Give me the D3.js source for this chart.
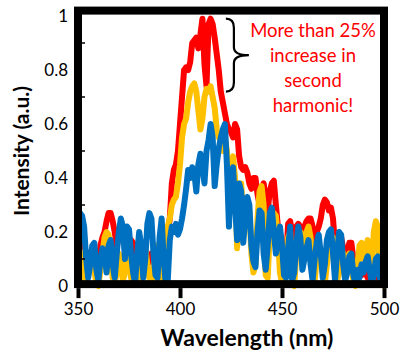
<!DOCTYPE html>
<html>
<head>
<meta charset="utf-8">
<script src="https://cdn.jsdelivr.net/npm/d3@7"></script>
<style>
  body { margin: 0; background: #fff; }
  text { font-family: Lato, "Noto Sans", sans-serif; }
</style>
</head>
<body>
<svg id="chart" width="403" height="356"></svg>
<script>
// wavelength samples, 1 nm apart
const wavelength = d3.range(350, 501);

const red = [
  0.15,0.18,0.16,0.10,0.05,0.08,0.12,0.14,0.10,0.05,
  0.08,0.15,0.18,0.20,0.24,0.27,0.27,0.24,0.20,0.15,
  0.18,0.22,0.20,0.15,0.17,0.16,0.17,0.16,0.10,0.08,
  0.15,0.16,0.10,0.07,0.10,0.09,0.12,0.08,0.06,0.04,
  0.05,0.03,0.05,0.12,0.20,0.25,0.38,0.43,0.45,0.50,
  0.60,0.70,0.80,0.81,0.80,0.83,0.90,0.91,0.92,0.88,
  0.93,0.99,0.82,0.74,0.97,0.99,0.97,0.92,0.86,0.80,
  0.72,0.68,0.64,0.60,0.58,0.57,0.55,0.60,0.58,0.48,
  0.44,0.43,0.44,0.42,0.38,0.36,0.40,0.40,0.34,0.30,
  0.36,0.38,0.33,0.28,0.35,0.38,0.39,0.30,0.22,0.14,
  0.05,0.02,0.10,0.23,0.24,0.20,0.18,0.22,0.23,0.22,
  0.20,0.22,0.24,0.25,0.25,0.22,0.17,0.20,0.22,0.25,
  0.30,0.32,0.31,0.28,0.29,0.25,0.15,0.12,0.14,0.18,
  0.14,0.09,0.12,0.16,0.16,0.10,0.05,0.08,0.06,0.04,
  0.07,0.05,0.03,0.06,0.04,0.08,0.06,0.03,0.05,0.04,0.02
];

const yellow = [
  0.14,0.13,0.10,0.02,0.01,0.04,0.10,0.13,0.06,0.01,
  0.00,0.06,0.12,0.18,0.20,0.19,0.10,0.03,0.01,0.05,
  0.12,0.08,0.02,0.05,0.13,0.10,0.03,0.01,0.04,0.10,
  0.07,0.02,0.13,0.14,0.08,0.03,0.01,0.05,0.15,0.10,
  0.03,0.01,0.06,0.15,0.22,0.25,0.30,0.32,0.33,0.38,
  0.45,0.55,0.60,0.62,0.68,0.72,0.74,0.75,0.72,0.65,
  0.58,0.62,0.70,0.73,0.72,0.74,0.70,0.66,0.58,0.55,
  0.56,0.50,0.55,0.50,0.35,0.45,0.48,0.40,0.14,0.38,
  0.38,0.25,0.22,0.30,0.28,0.12,0.05,0.08,0.25,0.35,
  0.37,0.30,0.04,0.03,0.20,0.25,0.27,0.26,0.18,0.05,
  0.01,0.02,0.12,0.18,0.20,0.01,0.00,0.12,0.20,0.20,
  0.15,0.18,0.20,0.22,0.18,0.05,0.02,0.10,0.15,0.12,
  0.05,0.01,0.08,0.15,0.18,0.18,0.08,0.02,0.05,0.14,
  0.12,0.06,0.10,0.12,0.08,0.02,0.00,0.08,0.15,0.16,
  0.10,0.14,0.17,0.12,0.04,0.20,0.24,0.22,0.05,0.01,0.00
];

const blue = [
  0.25,0.27,0.26,0.22,0.10,0.03,0.08,0.15,0.16,0.06,
  0.02,0.10,0.14,0.12,0.05,0.15,0.17,0.08,0.03,0.12,
  0.20,0.25,0.22,0.10,0.22,0.21,0.12,0.05,0.01,0.12,
  0.20,0.15,0.03,0.10,0.23,0.27,0.25,0.12,0.04,0.03,
  0.18,0.25,0.10,0.01,0.02,0.17,0.22,0.20,0.23,0.19,
  0.21,0.25,0.30,0.36,0.43,0.40,0.44,0.42,0.35,0.45,
  0.49,0.44,0.38,0.50,0.54,0.60,0.55,0.37,0.45,0.51,
  0.55,0.58,0.60,0.45,0.22,0.40,0.44,0.30,0.17,0.38,
  0.35,0.16,0.25,0.33,0.30,0.15,0.09,0.07,0.20,0.28,
  0.27,0.12,0.06,0.15,0.27,0.29,0.20,0.12,0.18,0.22,
  0.15,0.04,0.03,0.14,0.22,0.02,0.05,0.15,0.22,0.18,
  0.06,0.10,0.14,0.17,0.08,0.02,0.10,0.16,0.19,0.12,
  0.03,0.08,0.17,0.20,0.21,0.12,0.02,0.12,0.20,0.19,
  0.08,0.02,0.05,0.11,0.12,0.04,0.01,0.06,0.03,0.08,
  0.05,0.09,0.11,0.06,0.01,0.04,0.10,0.11,0.03,0.07,0.02
];

const xTicks = [350, 400, 450, 500];
const yTicks = [0, 0.2, 0.4, 0.6, 0.8, 1];
const yMinorTicks = [0.1, 0.3, 0.5, 0.7, 0.9];
const noteLines = ["More than 25%", "increase in", "second", "harmonic!"];

const svg = d3.select("#chart");

const x = d3.scaleLinear().domain([350, 500]).range([78, 384]);
const y = d3.scaleLinear().domain([0, 1]).range([286, 16]);

// series, red at the bottom, blue on top
const line = d3.line()
  .x((d, i) => x(wavelength[i]))
  .y(d => y(d));

[[red, "#ff0000"], [yellow, "#ffc000"], [blue, "#0070c0"]].forEach(([vals, colour]) => {
  svg.append("path")
    .datum(vals)
    .attr("d", line)
    .attr("fill", "none")
    .attr("stroke", colour)
    .attr("stroke-width", 6)
    .attr("stroke-linejoin", "round")
    .attr("stroke-linecap", "round");
});

// thick frame
const frameTop = y(1.02), frameBottom = y(0.007);
svg.append("rect")
  .attr("x", x(350))
  .attr("y", frameTop)
  .attr("width", x(500) - x(350))
  .attr("height", frameBottom - frameTop)
  .attr("fill", "none")
  .attr("stroke", "#000")
  .attr("stroke-width", 8);

// x axis
const xAxis = svg.append("g")
  .attr("transform", "translate(0," + (frameBottom + 4) + ")")
  .call(d3.axisBottom(x).tickValues(xTicks).tickSizeInner(10).tickSizeOuter(0).tickPadding(5));
xAxis.select(".domain").remove();
xAxis.selectAll(".tick line").attr("stroke", "#000").attr("stroke-width", 4);
xAxis.selectAll(".tick text").attr("font-size", "17px").attr("fill", "#000")
  .style("font-family", "Lato, 'Noto Sans', sans-serif");

// y axis
const yAxis = svg.append("g")
  .attr("transform", "translate(" + x(350) + ",0)")
  .call(d3.axisLeft(y).tickValues(yTicks).tickSize(0).tickPadding(10).tickFormat(d3.format("")));
yAxis.select(".domain").remove();
yAxis.selectAll(".tick text").attr("font-size", "17px").attr("fill", "#000")
  .style("font-family", "Lato, 'Noto Sans', sans-serif");

// small inner minor ticks
svg.selectAll(".minor")
  .data(yMinorTicks)
  .enter()
  .append("line")
  .attr("x1", x(350) + 4)
  .attr("x2", x(350) + 7)
  .attr("y1", d => y(d))
  .attr("y2", d => y(d))
  .attr("stroke", "#000")
  .attr("stroke-width", 1.5);

// axis titles
svg.append("text")
  .attr("x", (x(350) + x(500)) / 2 + 16)
  .attr("y", 346)
  .attr("text-anchor", "middle")
  .attr("font-size", "23px")
  .attr("font-weight", "700")
  .text("Wavelength (nm)");

svg.append("text")
  .attr("transform", "translate(29," + y(0.5) + ") rotate(-90)")
  .attr("text-anchor", "middle")
  .attr("font-size", "21px")
  .attr("font-weight", "700")
  .text("Intensity (a.u.)");

// brace from the red peak down to the yellow peak
const bTop = y(0.99), bBottom = y(0.72), bMid = (bTop + bBottom) / 2;
const bx0 = x(422.5), bx1 = bx0 + 8, bTip = bx0 + 23;
svg.append("path")
  .attr("d", "M" + bx0 + "," + bTop +
    " Q" + bx1 + "," + bTop + " " + bx1 + "," + (bTop + 9) +
    " L" + bx1 + "," + (bMid - 8) +
    " Q" + bx1 + "," + bMid + " " + bTip + "," + bMid +
    " Q" + bx1 + "," + bMid + " " + bx1 + "," + (bMid + 8) +
    " L" + bx1 + "," + (bBottom - 9) +
    " Q" + bx1 + "," + bBottom + " " + bx0 + "," + bBottom)
  .attr("fill", "none")
  .attr("stroke", "#000")
  .attr("stroke-width", 2.2);

// annotation
svg.append("text")
  .attr("text-anchor", "middle")
  .attr("font-size", "18.5px")
  .attr("fill", "#ff0000")
  .selectAll("tspan")
  .data(noteLines)
  .enter()
  .append("tspan")
  .attr("x", 313)
  .attr("y", (d, i) => 37 + i * 25)
  .text(d => d);
</script>
</body>
</html>
